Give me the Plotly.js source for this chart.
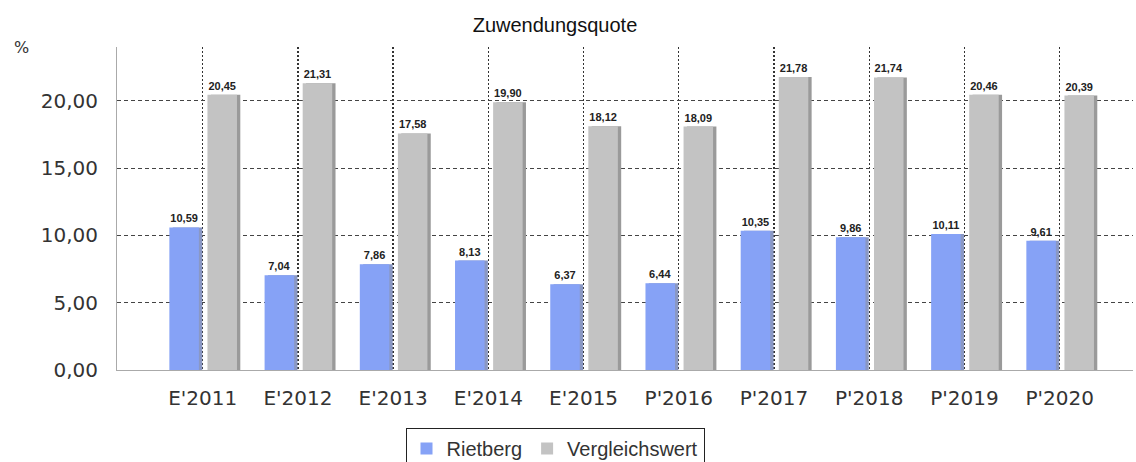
<!DOCTYPE html>
<html>
<head>
<meta charset="utf-8">
<script src="https://cdn.plot.ly/plotly-3.0.1.min.js"></script>
<style>html,body{margin:0;padding:0;background:#fff;}#chart{width:1136px;height:462px;}</style>
</head>
<body>
<div id="chart"></div>
<script>
const categories = ["E'2011","E'2012","E'2013","E'2014","E'2015","P'2016","P'2017","P'2018","P'2019","P'2020"];
const rietberg = [10.59, 7.04, 7.86, 8.13, 6.37, 6.44, 10.35, 9.86, 10.11, 9.61];
const vergleichswert = [20.45, 21.31, 17.58, 19.90, 18.12, 18.09, 21.78, 21.74, 20.46, 20.39];
const yTicks = [0, 5, 10, 15, 20];

const W = 0.31;
const common = {type: 'bar', x: categories, width: W};
const shadow = (y, off, col) => Object.assign({}, common, {
  y: y, offset: off + 0.035, marker: {color: col}, showlegend: false, hoverinfo: 'skip'
});
const labelFont = {family: 'Liberation Sans, Arial', size: 11, color: '#222'};
const traces = [
  shadow(rietberg, -0.35, '#8a98c4'),
  shadow(vergleichswert, 0.05, '#9a9a9a'),
  Object.assign({}, common, {
    name: 'Rietberg', y: rietberg, offset: -0.35,
    marker: {color: '#86a2f6'},
    texttemplate: '<b>%{y:.2f}</b>', textposition: 'outside', cliponaxis: false,
    textfont: labelFont
  }),
  Object.assign({}, common, {
    name: 'Vergleichswert', y: vergleichswert, offset: 0.05,
    marker: {color: '#c3c3c3'},
    texttemplate: '<b>%{y:.2f}</b>', textposition: 'outside', cliponaxis: false,
    textfont: labelFont
  })
];

const layout = {
  width: 1136, height: 462,
  margin: {l: 117, r: 3, t: 47, b: 92},
  paper_bgcolor: '#fff', plot_bgcolor: '#fff',
  separators: ',.',
  barmode: 'overlay',
  title: {text: 'Zuwendungsquote', x: 555 / 1136, xref: 'container', xanchor: 'center',
          y: 1 - 25 / 462, yref: 'container', yanchor: 'middle',
          font: {family: 'Liberation Sans, Arial', size: 20, color: '#111'}},
  showlegend: true,
  legend: {orientation: 'h', xref: 'container', yref: 'container', x: 555 / 1136, xanchor: 'center',
           y: 1 - 428 / 462, yanchor: 'top', bordercolor: '#222', borderwidth: 1,
           font: {family: 'Liberation Sans, Arial', size: 20, color: '#333'},
           traceorder: 'normal'},
  xaxis: {
    type: 'category', range: [-0.9, 9.77],
    showgrid: true, gridcolor: '#333', griddash: '2px,2px', gridwidth: 1.3,
    showline: true, linecolor: '#aaa', linewidth: 1,
    ticks: '', tickfont: {family: 'DejaVu Sans, Verdana', size: 20, color: '#333'},
    ticklabelstandoff: 10, fixedrange: true
  },
  yaxis: {
    range: [0, 24], tickvals: yTicks, tickformat: '.2f',
    showgrid: true, gridcolor: '#444', griddash: '4px,3px', gridwidth: 1.2,
    showline: true, linecolor: '#aaa', linewidth: 1, zeroline: false,
    ticks: '', tickfont: {family: 'DejaVu Sans, Verdana', size: 20, color: '#333'},
    ticklabelstandoff: 14, fixedrange: true
  },
  annotations: [{text: '%', xref: 'paper', yref: 'paper', x: -0.103, y: 1.0, xanchor: 'left', yanchor: 'middle',
                 showarrow: false, font: {family: 'DejaVu Sans, Verdana', size: 16, color: '#333'}}]
};

Plotly.newPlot('chart', traces, layout, {displayModeBar: false, staticPlot: true});
</script>
</body>
</html>
